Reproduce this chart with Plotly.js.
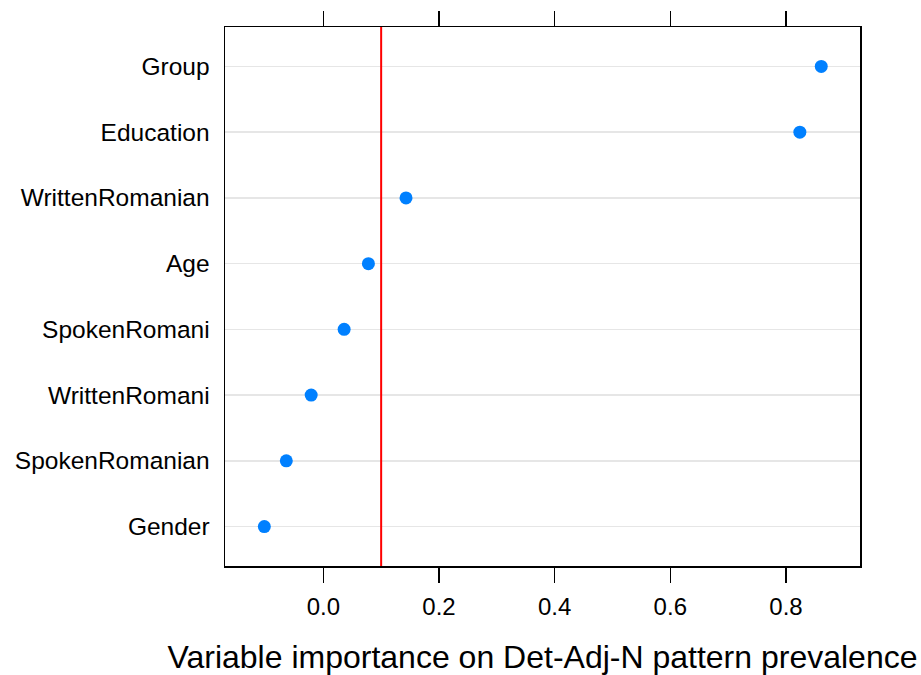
<!DOCTYPE html>
<html>
<head>
<meta charset="utf-8">
<script src="https://cdn.plot.ly/plotly-3.0.1.min.js"></script>
<style>html,body{margin:0;padding:0;background:#fff;}#chart{width:921px;height:675px;}</style>
</head>
<body>
<div id="chart"></div>
<script>
const variables = ["Gender","SpokenRomanian","WrittenRomani","SpokenRomani","Age","WrittenRomanian","Education","Group"];
const importance = [-0.102, -0.064, -0.021, 0.036, 0.078, 0.143, 0.824, 0.861];
const threshold = 0.1;
const xTicks = [0, 0.2, 0.4, 0.6, 0.8];
const xTickLabels = ["0.0","0.2","0.4","0.6","0.8"];
const xTitle = "Variable importance on Det-Adj-N pattern prevalence";

const trace = {
  type: 'scatter', mode: 'markers',
  x: importance, y: variables,
  marker: {color: '#0080ff', size: 13},
  hoverinfo: 'x+y'
};
const layout = {
  width: 921, height: 675,
  margin: {l: 225, r: 61, t: 27, b: 109},
  paper_bgcolor: '#fff', plot_bgcolor: '#fff',
  font: {family: 'Liberation Sans, Arial, sans-serif', color: '#000'},
  showlegend: false,
  xaxis: {
    range: [-0.17, 0.928],
    tickvals: xTicks, ticktext: xTickLabels,
    ticks: 'outside', ticklen: 15, tickwidth: 1.5, tickcolor: '#000',
    ticklabelstandoff: 4,
    showgrid: false, zeroline: false,
    showline: true, linecolor: '#000', linewidth: 1.5, mirror: 'allticks',
    tickfont: {size: 24},
    title: {text: xTitle, font: {size: 32}, standoff: 28}
  },
  yaxis: {
    type: 'category', categoryorder: 'array', categoryarray: variables,
    range: [-0.6, 7.6],
    showgrid: true, gridcolor: '#e6e6e6', gridwidth: 1.5,
    zeroline: false, ticks: '', ticklabelstandoff: 9,
    showline: true, linecolor: '#000', linewidth: 1.5, mirror: true,
    tickfont: {size: 24.5}
  },
  shapes: [{
    type: 'line', xref: 'x', yref: 'paper',
    x0: threshold, x1: threshold, y0: 0, y1: 1,
    line: {color: '#ff0000', width: 2}
  }]
};
Plotly.newPlot('chart', [trace], layout, {displayModeBar: false, staticPlot: true});
</script>
</body>
</html>
